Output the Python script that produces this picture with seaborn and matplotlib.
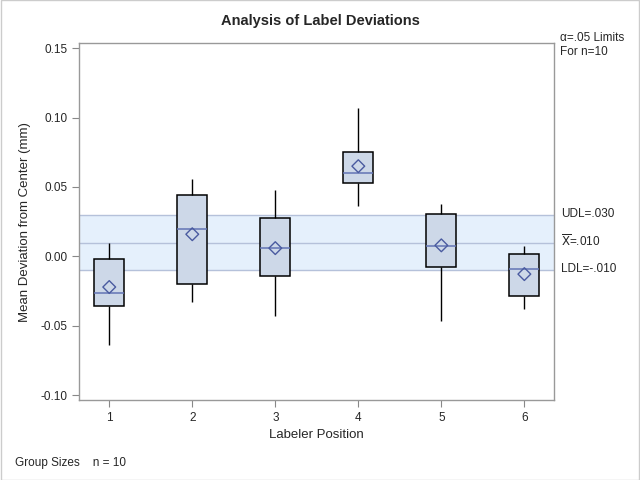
import matplotlib
matplotlib.use("Agg")
import matplotlib.pyplot as plt
import seaborn as sns
import pandas as pd
import numpy as np

positions = [1, 2, 3, 4, 5, 6]
low = [-0.064, -0.033, -0.043, 0.0365, -0.0465, -0.038]
q1 = [-0.036, -0.020, -0.014, 0.053, -0.0076, -0.0285]
median = [-0.026, 0.020, 0.006, 0.060, 0.0075, -0.009]
q3 = [-0.002, 0.044, 0.028, 0.0755, 0.0305, 0.0015]
high = [0.0096, 0.056, 0.048, 0.107, 0.038, 0.0075]
means = [-0.022, 0.016, 0.006, 0.065, 0.008, -0.0127]
udl, center, ldl = 0.030, 0.010, -0.010
yticks = [-0.10, -0.05, 0.00, 0.05, 0.10, 0.15]

sns.set_theme(style="white")
plt.rcParams['font.family'] = ['Liberation Sans', 'DejaVu Sans']

rows = []
for p, a, b, c, d, e in zip(positions, low, q1, median, q3, high):
    for v in (a, b, c, d, e):
        rows.append({"pos": p, "val": v})
df = pd.DataFrame(rows)

fig = plt.figure(figsize=(6.4, 4.8), dpi=100)
ax = fig.add_axes([0.124, 0.1667, 0.742, 0.7433])

ax.axhspan(ldl, udl, color="#E5F0FC", zorder=0, lw=0)
for yv in (ldl, center, udl):
    ax.axhline(yv, color="#B5C1DA", lw=1, zorder=0.5)

sns.boxplot(data=df, x="pos", y="val", native_scale=True, whis=np.inf, width=0.36,
            color="#CDD8E8", saturation=1, linewidth=1.1, ax=ax,
            boxprops=dict(edgecolor="black", facecolor="#CDD8E8"),
            whiskerprops=dict(color="black", lw=1),
            capprops=dict(color="black", lw=0, alpha=0),
            medianprops=dict(color="#6374B4", lw=1.1))

sns.scatterplot(x=positions, y=means, marker="D", s=42, facecolor="none",
                edgecolor="#4A5BA0", linewidth=1.0, ax=ax, zorder=5)

ax.set_xlim(0.64, 6.36)
ax.set_ylim(-0.1033, 0.1535)
ax.set_xticks(positions)
ax.set_xticklabels([str(p) for p in positions], fontsize=8.5)
ax.set_yticks(yticks)
ax.set_yticklabels([f"{t:.2f}" for t in yticks], fontsize=8.5)
ax.tick_params(axis="both", direction="out", length=5, width=0.8, color="#888888",
               left=True, bottom=True)
for s in ax.spines.values():
    s.set_color("#999999")
    s.set_linewidth(1)

ax.set_xlabel("Labeler Position", fontsize=9.5, labelpad=4)
ax.set_ylabel("Mean Deviation from Center (mm)", fontsize=9.5, labelpad=7)
fig.text(0.5, 0.957, "Analysis of Label Deviations", ha="center", va="center",
         fontsize=10.5, fontweight="bold")

fig.text(560/640, 1 - 38/480, "α=.05 Limits", fontsize=8.5, va="center", ha="left")
fig.text(560/640, 1 - 52/480, "For n=10", fontsize=8.5, va="center", ha="left")
fig.text(561/640, 1 - 214/480, "UDL=.030", fontsize=8.5, va="center", ha="left")
fig.text(561/640, 1 - 241/480, r"$\overline{\mathrm{X}}$=.010", fontsize=8.5, va="center", ha="left")
fig.text(561/640, 1 - 269/480, "LDL=-.010", fontsize=8.5, va="center", ha="left")
fig.text(15/640, 1 - 463/480, "Group Sizes    n = 10", fontsize=8.5, va="center", ha="left")

border = plt.Rectangle((0.0008, 0.001), 0.9984, 0.998, transform=fig.transFigure,
                       fill=False, edgecolor="#CCCCCC", lw=1)
fig.patches.append(border)

fig.savefig("out.png", dpi=100)
